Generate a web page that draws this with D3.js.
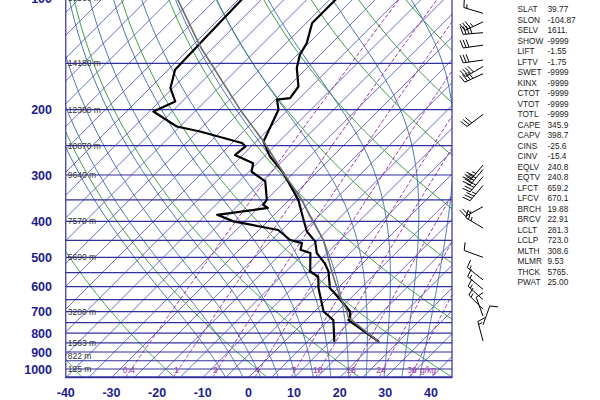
<!DOCTYPE html>
<html><head><meta charset="utf-8">
<script src="https://cdn.jsdelivr.net/npm/d3@7"></script>
<style>body{margin:0;background:#fff}svg{display:block}</style>
</head><body>
<svg id="c" width="600" height="400"></svg>
<script>
// ---------------- data ----------------
const pressureTicks = [100,200,300,400,500,600,700,800,900,1000];
const tempTicks = [-40,-30,-20,-10,0,10,20,30,40];
const heightLevels = [100,150,200,250,300,400,500,700,850,925,1000];
const heightLabels = ["16530 m","14180 m","12380 m","10870 m","9640 m","7570 m","5690 m","3200 m","1563 m","822 m","125 m"];
const mixRatios = [0.4,1,2,4,7,10,16,24,36];
const mixLabels = ["0.4","1","2","4","7","10","16","24","36"];
const dryThetas = [-40,-20,0,20,40,60,80,100,120,140,160,180];
const moistThetaW = [-8,-4,0,4,8,12,16,20,24,28,32,36];

const tempP = [100,116.8,132.3,142.5,154.5,173.2,186.1,188,200,243.7,267.5,296.6,350,396,426,453,487,519,546,606,619,651,665,700,730,738,845];
const tempT = [-63.7,-63.7,-60.5,-59.4,-57.2,-52.8,-52.1,-54.6,-52.1,-48.4,-43.7,-37.1,-28.0,-22.5,-19.2,-15.2,-12.3,-8.3,-5.7,-1.7,-0.2,3.1,4.5,7.8,9.3,9.3,20.8];
const dewP = [100,132.3,156.1,174.9,190.1,202.3,222,229,246,251,265,279,294,312,350,361,368,384,400,422,449,458,477,487,546,564,606,700,738,845];
const dewT = [-84.3,-83.8,-83.5,-80.5,-76.5,-79.1,-70.7,-64.5,-52.8,-51.3,-51.7,-45.9,-44.4,-39.3,-34.9,-34.6,-32.9,-42.5,-37.5,-25.8,-21.0,-17.7,-16.6,-13.7,-9.7,-6.8,-4.2,2.0,6.0,11.0];
const parcelP = [100,135.3,200,243.7,300,350,388,449,546,638,693,725,845];
const parcelT = [-98.8,-83.0,-60.5,-48.4,-36.4,-27.2,-21.8,-13.7,-5.0,2.3,6.7,8.6,20.7];

const windP =   [110,116,124,134,147,153,160,206,282,290,303,320,365,417,500,575,610,650,690,720,760,840];
const windDir = [287,245,265,262,262,240,245,233,220,220,220,220,241,301,290,308,310,312,315,340,20,345];
const windSpd = [15,35,40,30,30,40,40,30,35,40,40,35,25,25,10,15,15,15,15,10,10,15];

const indexNames = ["SLAT","SLON","SELV","SHOW","LIFT","LFTV","SWET","KINX","CTOT","VTOT","TOTL","CAPE","CAPV","CINS","CINV","EQLV","EQTV","LFCT","LFCV","BRCH","BRCV","LCLT","LCLP","MLTH","MLMR","THCK","PWAT"];
const indexValues = ["39.77","-104.87","1611.","-9999","-1.55","-1.75","-9999","-9999","-9999","-9999","-9999","345.9","398.7","-25.6","-15.4","240.8","240.8","659.2","670.1","19.88","22.91","281.3","723.0","308.6","9.53","5765.","25.00"];

// ---------------- scales ----------------
const pTop = 100, pBot = 1055;
const y = d3.scaleLog().domain([1000,100]).range([369,-2]);
const xs = d3.scaleLinear().domain([0,10]).range([257,302.65]);
const X = (T,p) => xs(T) + (y(1000) - y(p));
const fL = X(-40,pBot), fR = 452, fT = y(pTop), fB = y(pBot);
const FONT = "Liberation Sans, Arial, sans-serif";

const svg = d3.select("#c");
svg.append("rect").attr("width",600).attr("height",400).attr("fill","#fff");
svg.append("clipPath").attr("id","clip").append("rect")
  .attr("x",fL).attr("y",fT).attr("width",fR-fL).attr("height",fB-fT);
const g = svg.append("g").attr("clip-path","url(#clip)");

const pLevels = d3.range(pBot, pTop-0.01, -5).concat([pTop]);
const line = d3.line().x(d=>X(d[1],d[0])).y(d=>y(d[0]));

// isotherms
const isotherms = d3.range(-130,46,5);
g.selectAll(".iso").data(isotherms).join("line")
  .attr("x1",d=>X(d,pBot)).attr("y1",fB).attr("x2",d=>X(d,pTop)).attr("y2",fT)
  .attr("stroke","#6c6cc8").attr("stroke-width",1);

// dry adiabats
dryThetas.forEach(th=>{
  const pts = pLevels.map(p=>[p,(th+273.15)*Math.pow(p/1000,0.286)-273.15]);
  g.append("path").attr("d",line(pts)).attr("fill","none").attr("stroke","#3e9e3e").attr("stroke-width",1);
});

// moist adiabats
function es(Tc){return 6.112*Math.exp(17.67*Tc/(Tc+243.5));}
function dTdp(p,Tc){
  const T=Tc+273.15, e=es(Tc), rs=0.622*e/(p-e);
  const Rd=287.04, cp=1005.7, Lv=2.501e6;
  return (Rd*T+Lv*rs)/(p*(cp+Lv*Lv*rs*0.622/(Rd*T*T)));
}
function integrate(T0,p0,p1,step){
  const out=[[p0,T0]]; let T=T0, p=p0; const n=Math.ceil(Math.abs(p1-p0)/step), h=(p1-p0)/n;
  for(let i=0;i<n;i++){
    const k1=dTdp(p,T), k2=dTdp(p+h/2,T+h/2*k1), k3=dTdp(p+h/2,T+h/2*k2), k4=dTdp(p+h,T+h*k3);
    T+=h/6*(k1+2*k2+2*k3+k4); p+=h; out.push([p,T]);
  }
  return out;
}
moistThetaW.forEach(tw=>{
  const up = integrate(tw,1000,pTop,5);
  const down = integrate(tw,1000,pBot,5).reverse();
  g.append("path").attr("d",line(down.concat(up.slice(1)))).attr("fill","none").attr("stroke","#4a78ae").attr("stroke-width",1);
});

// mixing ratio lines
function tdFromW(w,p){const e=w*p/(622+w), l=Math.log(e/6.112); return 243.5*l/(17.67-l);}
mixRatios.forEach(w=>{
  const pts = pLevels.map(p=>[p,tdFromW(w,p)]);
  g.append("path").attr("d",line(pts)).attr("fill","none").attr("stroke","#a030a8")
    .attr("stroke-width",1).attr("stroke-dasharray","4,2");
});

// isobars
const isobars = d3.range(100,1051,50);
g.selectAll(".isobar").data(isobars).join("line")
  .attr("x1",fL).attr("x2",fR)
  .attr("y1",d=>y(d)).attr("y2",d=>y(d))
  .attr("stroke","#30309e").attr("stroke-width",1.2);

mixRatios.forEach((w,i)=>{
  g.append("text").attr("x",X(tdFromW(w,1005),1005)-2).attr("y",y(1005)+3)
   .attr("text-anchor","middle").attr("font-family",FONT)
   .attr("font-size",8.5).attr("fill","#a030a8").text(mixLabels[i]);
});
g.append("text").attr("x",X(tdFromW(36,1005),1005)+6).attr("y",y(1005)+3)
  .attr("font-family",FONT).attr("font-size",8.5).attr("fill","#a030a8").text("g/kg");

// height labels
heightLevels.forEach((p,i)=>{
  g.append("text").attr("x",fL+2).attr("y",y(p)+3).attr("font-family",FONT)
   .attr("font-size",8.5).attr("fill","#333").text(heightLabels[i]);
});

// parcel, temperature, dewpoint
const tempPts = tempP.map((p,i)=>[p,tempT[i]]);
const dewPts = dewP.map((p,i)=>[p,dewT[i]]);
const parPts = parcelP.map((p,i)=>[p,parcelT[i]]);
g.append("path").attr("d",line(dewPts)).attr("fill","none").attr("stroke","#000").attr("stroke-width",2.2).attr("stroke-linejoin","round");
g.append("path").attr("d",line(tempPts)).attr("fill","none").attr("stroke","#000").attr("stroke-width",2.2).attr("stroke-linejoin","round");
g.append("path").attr("d",line(parPts)).attr("fill","none").attr("stroke","#6e6e6e").attr("stroke-width",1.6).attr("stroke-linejoin","round");

// frame
svg.append("rect").attr("x",fL).attr("y",fT).attr("width",fR-fL).attr("height",fB-fT)
  .attr("fill","none").attr("stroke","#30309e").attr("stroke-width",1.2);

// axis labels
svg.selectAll(".pl").data(pressureTicks).join("text")
  .attr("x",52).attr("y",d=>y(d)+4.5).attr("text-anchor","end")
  .attr("font-family",FONT).attr("font-weight","bold").attr("font-size",12.5)
  .attr("fill","#1c1c8c").text(d=>d);
svg.selectAll(".tl").data(tempTicks).join("text")
  .attr("x",d=>X(d,pBot)).attr("y",397).attr("text-anchor","middle")
  .attr("font-family",FONT).attr("font-weight","bold").attr("font-size",12.5)
  .attr("fill","#1c1c8c").text(d=>d);

// wind barbs
const bx = 483;
function barb(x0,y0,dir,spd){
  const r=dir*Math.PI/180, d=[Math.sin(r),-Math.cos(r)], side=[-d[1],d[0]], L=20;
  const tip=[x0+d[0]*L,y0+d[1]*L];
  const bg=svg.append("g").attr("stroke","#000").attr("stroke-width",1).attr("fill","none");
  bg.append("line").attr("x1",x0).attr("y1",y0).attr("x2",tip[0]).attr("y2",tip[1]);
  let s=Math.round(spd/5)*5, pos=0;
  const at=k=>[tip[0]-d[0]*k, tip[1]-d[1]*k];
  while(s>=50){const a=at(pos),b=at(pos+4);
    bg.append("path").attr("d",`M${a}L${a[0]+side[0]*8+d[0]*2},${a[1]+side[1]*8+d[1]*2}L${b}Z`).attr("fill","#000"); pos+=5; s-=50;}
  while(s>=10){const a=at(pos);
    bg.append("line").attr("x1",a[0]).attr("y1",a[1]).attr("x2",a[0]+side[0]*8+d[0]*2).attr("y2",a[1]+side[1]*8+d[1]*2); pos+=3; s-=10;}
  if(s>=5){ if(pos===0) pos=3; const a=at(pos);
    bg.append("line").attr("x1",a[0]).attr("y1",a[1]).attr("x2",a[0]+side[0]*4+d[0]*1).attr("y2",a[1]+side[1]*4+d[1]*1);}
}
windP.forEach((p,i)=>barb(bx,y(p),windDir[i],windSpd[i]));

// indices text
indexNames.forEach((n,i)=>{
  svg.append("text").attr("x",517.5).attr("y",12+i*10.51).attr("font-family",FONT)
    .attr("font-size",8.3).attr("fill","#222").text(n);
  svg.append("text").attr("x",547.5).attr("y",12+i*10.51).attr("font-family",FONT)
    .attr("font-size",8.3).attr("fill","#222").text(indexValues[i]);
});
</script>
</body></html>
